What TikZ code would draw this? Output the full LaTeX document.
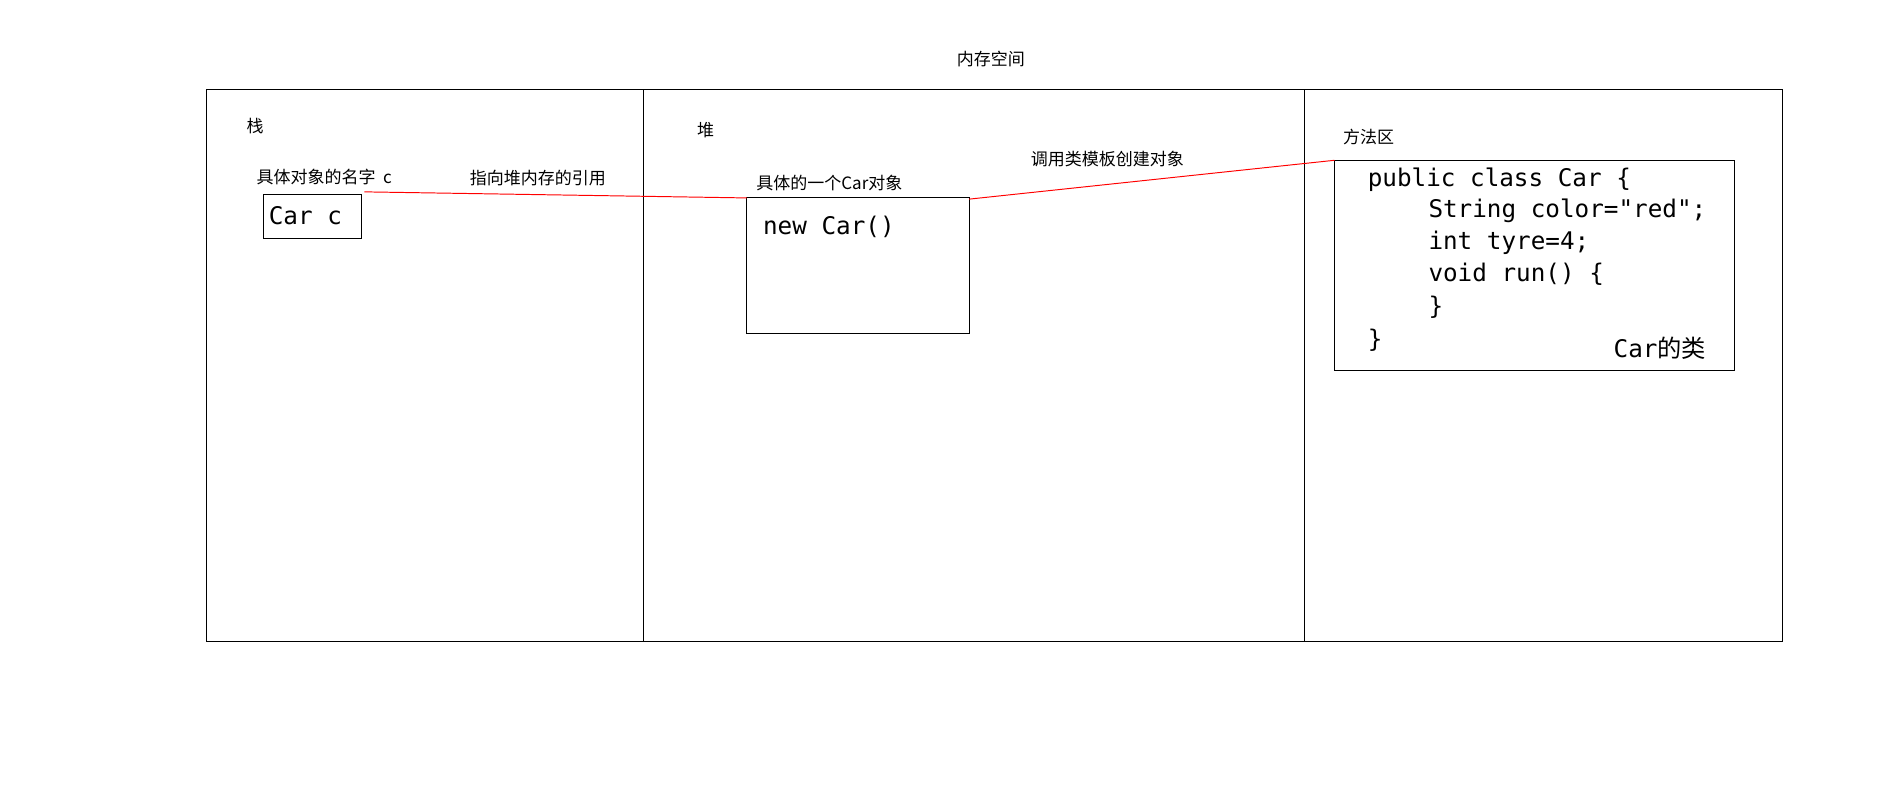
\documentclass[tikz,border=0pt]{standalone}
\usepackage{fontspec}
\setmonofont{DejaVu Sans Mono}
\newfontfamily\cjk{Noto Sans CJK SC}
\usetikzlibrary{positioning}

\tikzset{
    lbl/.style={font=\cjk\fontsize{7}{8}\selectfont,inner sep=0pt},
    codebox/.style={draw,thin,inner sep=0pt},
    ref/.style={red,thin}
}

\begin{document}
\begin{tikzpicture}[x=0.5pt,y=-0.5pt]
    \useasboundingbox (0,0) rectangle (1568,659);

    \node[lbl] (title) at (816,49) {内存空间};
    \draw[thin] (170,74) rectangle (1468,528);
    \draw[thin] (530,74) -- (530,528);
    \draw[thin] (1074,74) -- (1074,528);

    \node[lbl] (stack) at (210,104) {栈};
    \node[lbl] (heap) at (581,107) {堆};
    \node[lbl] (method) at (1127,113) {方法区};

    % stack
    \node[lbl] (name) at (267,146) {具体对象的名字\ \ c};
    \draw[thin] (217,160) rectangle (298,196);
    \node[font=\ttfamily\fontsize{10}{12}\selectfont,anchor=west,inner sep=0pt] (carc) at (221,178) {Car c};
    \node[lbl] (refl) at (443,147) {指向堆内存的引用};

    % heap
    \node[lbl] (objl) at (683,151) {具体的一个Car对象};
    \draw[thin] (615,163) rectangle (798,275);
    \node[font=\ttfamily\fontsize{10}{12}\selectfont,anchor=west,inner sep=0pt] (newcar) at (628,187) {new Car()};
    \node[lbl] (tmpl) at (912,131) {调用类模板创建对象};

    % method area
    \draw[thin] (1099,132) rectangle (1428,305);
    \foreach \t/\x/\y in {{public class Car \{}/1126/148,
                         {String color="red";}/1176/174,
                         {int tyre=4;}/1176/200,
                         {void run() \{}/1176/226,
                         {\}}/1176/253,
                         {\}}/1126/280}
        \node[font=\ttfamily\fontsize{10}{12}\selectfont,anchor=west,inner sep=0pt] at (\x,\y) {\t};
    \node[font=\fontsize{10}{12}\selectfont,inner sep=0pt] (carcls) at (1367,287) {{\ttfamily Car}{\cjk 的类}};

    % references
    \coordinate (ra) at (300,158);
    \coordinate (rb) at (615,163);
    \coordinate (rc) at (798,164);
    \coordinate (rd) at (1099,132);
    \draw[ref] (ra) -- (rb);
    \draw[ref] (rc) -- (rd);
\end{tikzpicture}
\end{document}
